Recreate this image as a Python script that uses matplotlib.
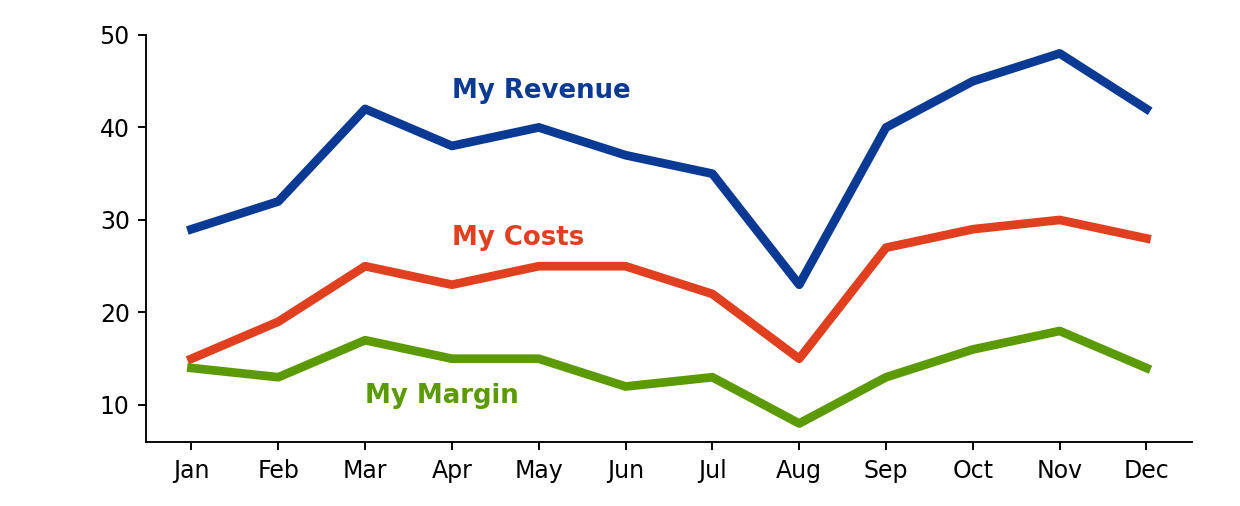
import matplotlib
matplotlib.use("Agg")
import matplotlib.pyplot as plt

months = ["Jan", "Feb", "Mar", "Apr", "May", "Jun",
          "Jul", "Aug", "Sep", "Oct", "Nov", "Dec"]
revenue = [29, 32, 42, 38, 40, 37, 35, 23, 40, 45, 48, 42]
costs = [15, 19, 25, 23, 25, 25, 22, 15, 27, 29, 30, 28]
margin = [14, 13, 17, 15, 15, 12, 13, 8, 13, 16, 18, 14]

# label text and where it sits (month index, value)
labels = ["My Revenue", "My Costs", "My Margin"]
label_pos = [(3, 43.9), (3, 28.0), (2, 11.0)]

colors = ["#0a3a94", "#e0401f", "#5c9a04"]

# rendered at a high dpi so that default-sized text looks like the reference
DPI = 170
fig = plt.figure(figsize=(1240 / DPI, 506 / DPI), dpi=DPI)
ax = fig.add_axes([0.118, 0.1265, 0.843, 0.8045])

x = range(len(months))
for series, col in zip([revenue, costs, margin], colors):
    ax.plot(x, series, color=col, linewidth=3.7)

for txt, (px, py), col in zip(labels, label_pos, colors):
    ax.text(px, py, txt, color=col, fontsize=11, fontweight="bold",
            ha="left", va="center")

ax.set_xticks(list(x))
ax.set_xticklabels(months)
ax.set_yticks([10, 20, 30, 40, 50])
ax.set_xlim(-0.52, 11.52)
ax.set_ylim(6, 50)
ax.tick_params(labelsize=10)
ax.spines["top"].set_visible(False)
ax.spines["right"].set_visible(False)

fig.savefig("out.png", dpi=DPI)
